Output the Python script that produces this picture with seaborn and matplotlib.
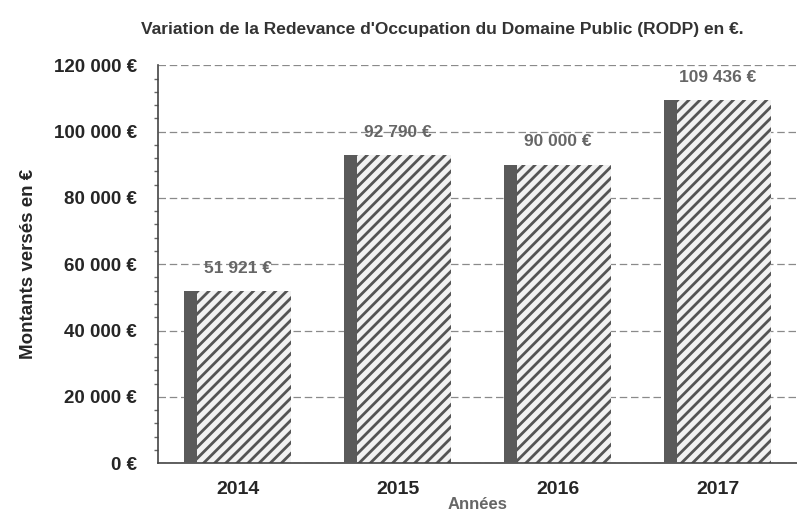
import matplotlib.pyplot as plt
import matplotlib.ticker as mticker
from matplotlib.patches import Rectangle
import pandas as pd
import seaborn as sns

# data
annees = ["2014", "2015", "2016", "2017"]
montants = [51921, 92790, 90000, 109436]
etiquettes = ["51 921 €", "92 790 €", "90 000 €", "109 436 €"]

df = pd.DataFrame({"annee": annees, "montant": montants})

sns.set_theme(style="white")
plt.rcParams["font.family"] = ["Liberation Sans", "DejaVu Sans"]
plt.rcParams["hatch.linewidth"] = 2.0
plt.rcParams["hatch.color"] = "#555555"

fig = plt.figure(figsize=(7.97, 5.14), dpi=100)
ax = fig.add_axes([0.198, 0.099, 0.803, 0.774])

sns.barplot(data=df, x="annee", y="montant", color="#f2f2f2", width=0.67,
            edgecolor="#555555", linewidth=0.0, hatch="///", ax=ax, zorder=2)

# dark strip on the left side of each bar (as in the scan)
for p in ax.patches[:len(annees)]:
    ax.add_patch(Rectangle((p.get_x(), 0), p.get_width() * 0.12, p.get_height(),
                           facecolor="#5a5a5a", edgecolor="none", zorder=3))

ax.set_ylim(0, 120000)
ax.set_xlim(-0.5, len(annees) - 0.5)

ax.yaxis.set_major_locator(mticker.MultipleLocator(20000))
ax.yaxis.set_minor_locator(mticker.MultipleLocator(4000))
ax.yaxis.set_major_formatter(
    mticker.FuncFormatter(lambda v, _: f"{int(v):,} €".replace(",", " ")))

# x ticks sit between the categories, labels centred under bars
ax.set_xticks([i + 0.5 for i in range(len(annees) - 1)], minor=True)
ax.tick_params(axis="x", which="major", length=0, pad=13)
ax.tick_params(axis="x", which="minor", length=5, direction="inout", color="#444444")
ax.tick_params(axis="y", which="major", length=5, color="#444444", pad=10)
ax.tick_params(axis="y", which="minor", length=3, left=True, color="#666666")
ax.tick_params(axis="x", labelsize=14)
ax.tick_params(axis="y", labelsize=13.5)
for lab in ax.get_xticklabels() + ax.get_yticklabels():
    lab.set_fontweight("bold")
    lab.set_color("#262626")

ax.grid(axis="y", which="major", color="#8a8a8a", linestyle=(0, (6, 3)),
        linewidth=0.9, zorder=0)
ax.set_axisbelow(True)

for s in ["top", "right"]:
    ax.spines[s].set_visible(False)
for s in ["left", "bottom"]:
    ax.spines[s].set_color("#444444")
    ax.spines[s].set_linewidth(1.2)

ax.set_xlabel("Années", fontsize=12, fontweight="bold", color="#666666", labelpad=-1)
ax.set_ylabel("Montants versés en €", fontsize=13.5, fontweight="bold", color="#262626", labelpad=12)

for i, (m, txt) in enumerate(zip(montants, etiquettes)):
    ax.annotate(txt, (i, m), xytext=(0, 11), textcoords="offset points",
                ha="center", va="bottom", fontsize=12.5, fontweight="bold",
                color="#666666", zorder=4)

fig.text(0.555, 0.942, "Variation de la Redevance d'Occupation du Domaine Public (RODP) en €.",
         ha="center", va="center", fontsize=12.5, fontweight="bold", color="#333333")

fig.savefig("out.png", dpi=100, facecolor="white")
